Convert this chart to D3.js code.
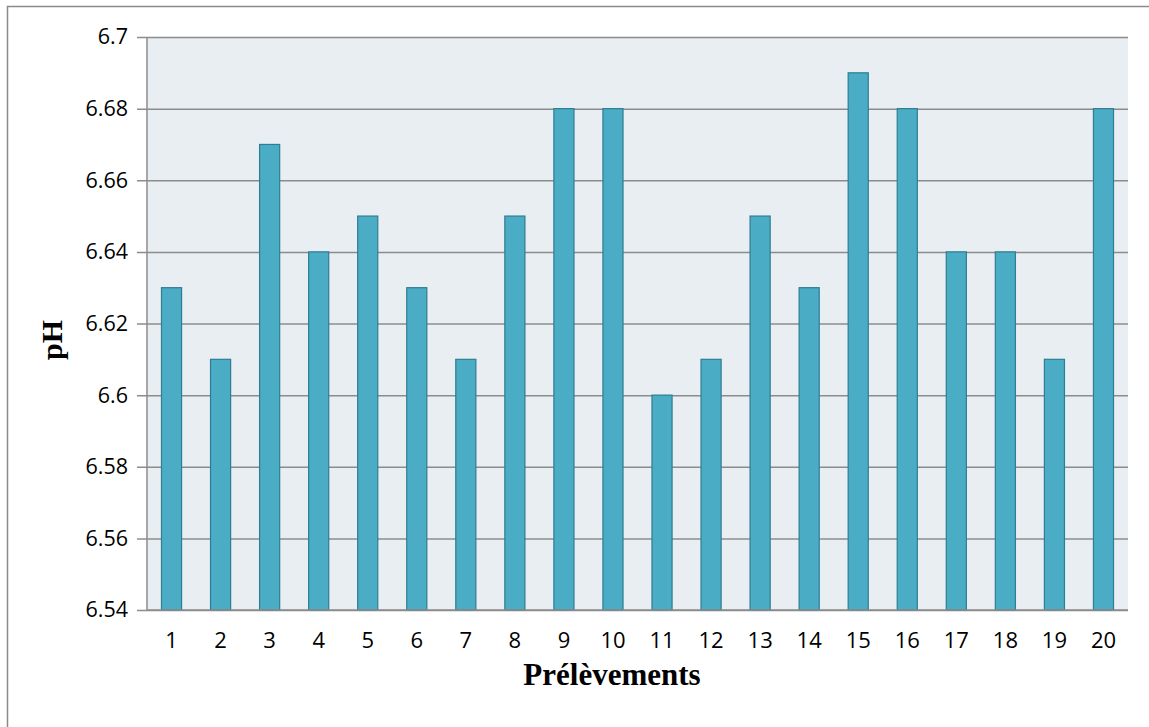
<!DOCTYPE html>
<html><head><meta charset="utf-8">
<script src="https://cdn.jsdelivr.net/npm/d3@7"></script>
<style>html,body{margin:0;padding:0;background:#fff;}</style>
</head><body>
<script>
const categories = ["1","2","3","4","5","6","7","8","9","10","11","12","13","14","15","16","17","18","19","20"];
const phValues = [6.63,6.61,6.67,6.64,6.65,6.63,6.61,6.65,6.68,6.68,6.60,6.61,6.65,6.63,6.69,6.68,6.64,6.64,6.61,6.68];
const yTicks = [6.54,6.56,6.58,6.6,6.62,6.64,6.66,6.68,6.7];
const xTitle = "Prélèvements";
const yTitle = "pH";

const W = 1149, H = 727;
const m = {left:147, top:37, right:1128, bottom:610};
const svg = d3.select("body").append("svg").attr("width",W).attr("height",H);

svg.append("rect").attr("x",7.5).attr("y",6.5).attr("width",W+10).attr("height",H+10)
  .attr("fill","none").attr("stroke","#8a8a8a").attr("stroke-width",1.5);

const x = d3.scaleBand().domain(categories).range([m.left,m.right]).paddingInner(0.57).paddingOuter(0.285);
const y = d3.scaleLinear().domain([6.54,6.7]).range([m.bottom,m.top]);

svg.append("rect").attr("x",m.left).attr("y",m.top).attr("width",m.right-m.left).attr("height",m.bottom-m.top)
  .attr("fill","#e8eef2");

const yAxis = d3.axisLeft(y).tickValues(yTicks).tickSize(m.right-m.left+10).tickFormat(d=>d3.format("")(+d.toFixed(2))).tickPadding(9);
const gy = svg.append("g").attr("transform",`translate(${m.right},0)`).call(yAxis);
gy.select(".domain").remove();
gy.selectAll(".tick line").attr("stroke","#8c8c8c").attr("stroke-width",1.5);
gy.selectAll(".tick text").attr("font-family","Open Sans").attr("font-size",21.5).attr("fill","#000");

svg.append("line").attr("x1",m.left).attr("x2",m.left).attr("y1",m.top).attr("y2",m.bottom)
  .attr("stroke","#8c8c8c").attr("stroke-width",1.5);

svg.append("g").selectAll("rect").data(phValues).join("rect")
  .attr("x",(d,i)=>x(categories[i])+0.5)
  .attr("width",x.bandwidth()-1)
  .attr("y",d=>y(d))
  .attr("height",d=>y(6.54)-y(d))
  .attr("fill","#4bacc6").attr("stroke","#2f7d92").attr("stroke-width",1.2);

const xAxis = d3.axisBottom(x).tickSize(0).tickPadding(22);
const gx = svg.append("g").attr("transform",`translate(0,${m.bottom})`).call(xAxis);
gx.select(".domain").attr("stroke","#8c8c8c").attr("stroke-width",1.5).attr("d",`M${m.left},0H${m.right}`);
gx.selectAll(".tick text").attr("font-family","Open Sans").attr("font-size",22).attr("fill","#000");

svg.append("text").attr("x",612).attr("y",685).attr("text-anchor","middle")
  .attr("font-family","Liberation Serif").attr("font-weight","bold").attr("font-size",31).text(xTitle);
svg.append("text").attr("transform",`translate(62,340) rotate(-90)`).attr("text-anchor","middle")
  .attr("font-family","Liberation Serif").attr("font-weight","bold").attr("font-size",30).text(yTitle);
</script>
</body></html>
